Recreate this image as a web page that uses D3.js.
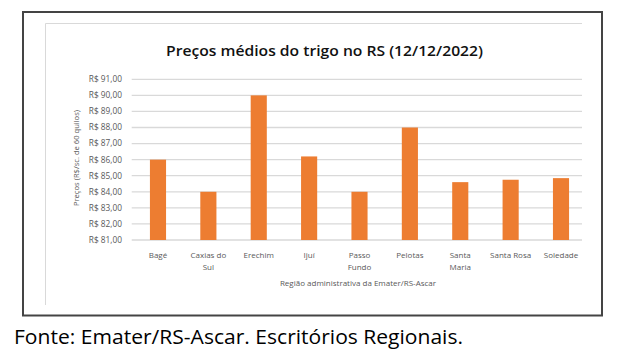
<!DOCTYPE html>
<html><head><meta charset="utf-8">
<script src="https://cdn.jsdelivr.net/npm/d3@7"></script>
<style>body{margin:0;background:#fff}svg{display:block}</style>
</head><body>
<svg id="c" width="617" height="357"></svg>
<script>
const categories = ["Bagé","Caxias do Sul","Erechim","Ijuí","Passo Fundo","Pelotas","Santa Maria","Santa Rosa","Soledade"];
const tickLabels = ["Bagé","Caxias do\nSul","Erechim","Ijuí","Passo\nFundo","Pelotas","Santa\nMaria","Santa Rosa","Soledade"];
const prices = [86.0, 84.0, 90.0, 86.2, 84.0, 88.0, 84.6, 84.75, 84.85];
const yTicks = [81,82,83,84,85,86,87,88,89,90,91];
const title = "Preços médios do trigo no RS (12/12/2022)";
const yTitle = "Preços (R$/sc. de 60 quilos)";
const xTitle = "Região administrativa da Emater/RS-Ascar";
const source = "Fonte: Emater/RS-Ascar. Escritórios Regionais.";

const svg = d3.select("#c");
const FONT = "'Open Sans', 'Liberation Sans', sans-serif";

// outer frame
svg.append("rect").attr("x",23).attr("y",12).attr("width",579).attr("height",303.5)
  .attr("fill","none").attr("stroke","#444").attr("stroke-width",2);
// inner chart area edges
svg.append("line").attr("x1",45.5).attr("x2",582).attr("y1",23.5).attr("y2",23.5).attr("stroke","#d9d9d9");
svg.append("line").attr("x1",45.5).attr("x2",45.5).attr("y1",23.5).attr("y2",305).attr("stroke","#d9d9d9");

const x = d3.scaleBand().domain(categories).range([132.8, 586.2]).paddingInner(0.68).paddingOuter(0.34);
const y = d3.scaleLinear().domain([81, 91]).range([240, 79.3]);

// gridlines
svg.append("g").selectAll("line").data(yTicks).join("line")
  .attr("x1",131.7).attr("x2",582)
  .attr("y1",d=>y(d)).attr("y2",d=>y(d))
  .attr("stroke","#d9d9d9").attr("stroke-width",1.3);

// y tick labels
const fmt = d => "R$ " + d.toFixed(2).replace(".", ",");
svg.append("g").selectAll("text").data(yTicks).join("text")
  .attr("x",122).attr("y",d=>y(d)).attr("dy","0.35em")
  .attr("text-anchor","end").attr("font-family",FONT).attr("font-size",8.3)
  .attr("fill","#595959").text(fmt);

// bars
svg.append("g").selectAll("rect").data(prices).join("rect")
  .attr("x",(d,i)=>x(categories[i])).attr("width",x.bandwidth())
  .attr("y",d=>y(d)).attr("height",d=>y(81)-y(d))
  .attr("fill","#ED7D31");

// x tick labels
const xl = svg.append("g").selectAll("text").data(tickLabels).join("text")
  .attr("text-anchor","middle").attr("font-family",FONT).attr("font-size",8)
  .attr("fill","#595959");
xl.each(function(t,i){
  const cx = x(categories[i]) + x.bandwidth()/2;
  d3.select(this).selectAll("tspan").data(t.split("\n")).join("tspan")
    .attr("x",cx).attr("y",(d,j)=>258 + j*12.3).text(d=>d);
});

// axis titles
svg.append("text").attr("x",358).attr("y",286).attr("text-anchor","middle")
  .attr("font-family",FONT).attr("font-size",8).attr("fill","#595959").text(xTitle);
svg.append("text").attr("transform","translate(79,158) rotate(-90)").attr("text-anchor","middle")
  .attr("font-family",FONT).attr("font-size",7.6).attr("fill","#595959").text(yTitle);

// title
svg.append("text").attr("x",166).attr("y",56).attr("font-family",FONT).attr("font-size",14)
  .attr("font-weight",600).attr("fill","#111").attr("textLength",317).attr("lengthAdjust","spacingAndGlyphs").text(title);

// source
svg.append("text").attr("x",14).attr("y",344).attr("font-family",FONT).attr("font-size",19.5)
  .attr("fill","#000").attr("textLength",449).attr("lengthAdjust","spacingAndGlyphs").text(source);
</script>
</body></html>
